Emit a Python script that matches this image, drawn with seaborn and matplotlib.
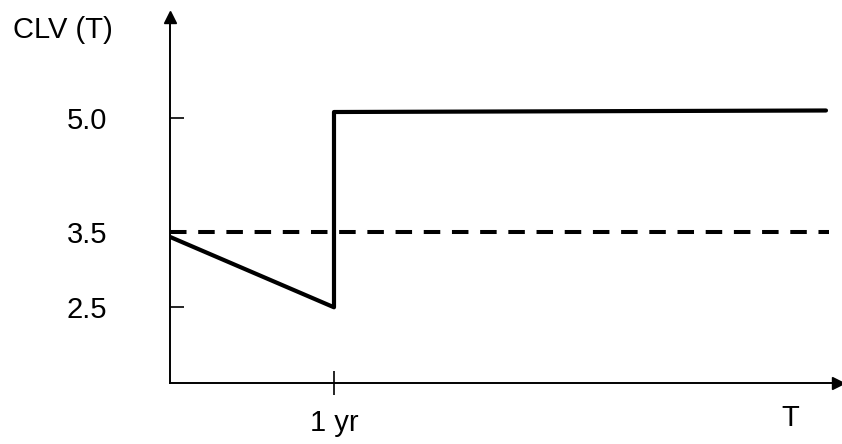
import numpy as np
import pandas as pd
import seaborn as sns
import matplotlib.pyplot as plt

# CLV path over time (years)
t_vals = [0.0, 1.0, 1.0, 4.0]
clv_vals = [3.43, 2.5, 5.08, 5.1]
# constant reference level
ref_t = [0.0, 4.02]
ref_clv = [3.5, 3.5]

y_ticks = [5.0, 3.5, 2.5]
y_labels = ["5.0", "3.5", "2.5"]
x_ticks = [1.0]
x_labels = ["1 yr"]

sns.set_style("ticks")
plt.rcParams["font.family"] = ["Liberation Sans", "DejaVu Sans"]
plt.rcParams["text.color"] = "black"
plt.rcParams["xtick.color"] = "black"
plt.rcParams["ytick.color"] = "black"
plt.rcParams["axes.labelcolor"] = "black"

fig = plt.figure(figsize=(8.42, 4.44), dpi=100)
ax = fig.add_axes([0.2019, 0.1374, 0.7933, 0.8243])

df = pd.DataFrame({"t": t_vals, "clv": clv_vals})
sns.lineplot(data=df, x="t", y="clv", sort=False, estimator=None,
             color="black", lw=3.0, ax=ax)
ref = pd.DataFrame({"t": ref_t, "clv": ref_clv})
sns.lineplot(data=ref, x="t", y="clv", sort=False, estimator=None,
             color="black", lw=2.9, dashes=False, ax=ax)
ax.lines[-1].set_dashes((4.1, 2.9))

ax.set_xlim(0, 4.073)
ax.set_ylim(1.5, 6.335)

sns.despine(ax=ax)
for s in ["left", "bottom"]:
    ax.spines[s].set_linewidth(1.4)
    ax.spines[s].set_color("black")

# arrow heads
ax.plot(1, 0, ">k", transform=ax.transAxes, clip_on=False, ms=8)
ax.plot(0, 1, "^k", transform=ax.transAxes, clip_on=False, ms=8)

fs = 21
ax.set_yticks(y_ticks)
ax.set_yticklabels(y_labels, fontsize=fs)
ax.set_yticks(y_ticks, minor=True)
ax.tick_params(axis="y", which="major", direction="in", length=10, width=1.2, pad=45)
ax.tick_params(axis="y", which="minor", direction="out", length=3.5, width=1.2, labelleft=False)
ax.set_xticks(x_ticks)
ax.set_xticklabels(x_labels, fontsize=fs)
ax.tick_params(axis="x", direction="inout", length=17, width=1.2, pad=10)

ax.set_xlabel("")
ax.set_ylabel("CLV (T)", fontsize=fs, rotation=0, ha="center", va="center")
ax.yaxis.set_label_coords(-0.161, 0.965)
ax.text(0.928, -0.095, "T", transform=ax.transAxes, fontsize=fs,
        ha="center", va="center")

fig.savefig("out.png", dpi=100)
